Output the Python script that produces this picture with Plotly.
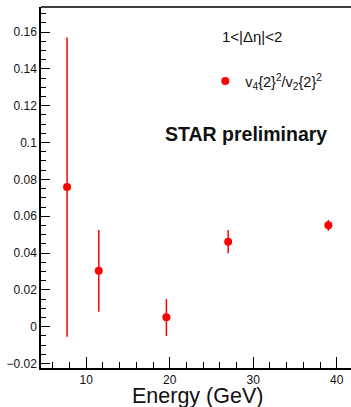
import plotly.graph_objects as go

energy = [7.7, 11.5, 19.6, 27.0, 39.0]
ratio = [0.0759, 0.0304, 0.0051, 0.0462, 0.0551]
err_up = [0.0811, 0.0221, 0.0099, 0.0063, 0.0029]
err_down = [0.0813, 0.0223, 0.0102, 0.0063, 0.0030]

series_name = "v<sub>4</sub>{2}<sup>2</sup>/v<sub>2</sub>{2}<sup>2</sup>"
label_eta = "1<|Δη|<2"
label_star = "<b>STAR preliminary</b>"
x_title = "Energy (GeV)"

W, H = 351, 407
L, R, T, B = 40.7, 0, 7, 39
FONT = "Liberation Sans, Arial, Helvetica, sans-serif"

fig = go.Figure()
fig.add_trace(go.Scatter(
    x=energy, y=ratio, mode="markers", name=series_name,
    marker=dict(color="#ff0000", size=8, symbol="circle"),
    error_y=dict(type="data", array=err_up, arrayminus=err_down,
                 color="#ff0000", thickness=1.5, width=0, symmetric=False),
))

fig.update_layout(
    width=W, height=H,
    margin=dict(l=L, r=R, t=T, b=B, pad=0),
    paper_bgcolor="white", plot_bgcolor="white",
    font=dict(family=FONT, color="#111111", size=12),
    showlegend=True,
    legend=dict(x=0.53, y=0.795, xanchor="left", yanchor="middle",
                bgcolor="rgba(0,0,0,0)", borderwidth=0,
                font=dict(size=14.5, family=FONT, color="#111111"),
                itemwidth=30),
    xaxis=dict(range=[4.58, 41.71], showgrid=False, zeroline=False,
               showline=True, linecolor="black", linewidth=1.5,
               ticks="inside", ticklen=11, tickwidth=1.2, tickcolor="black",
               tick0=0, dtick=10,
               minor=dict(dtick=2, tick0=0, ticks="inside", ticklen=6,
                          tickwidth=1, tickcolor="black", showgrid=False),
               tickfont=dict(size=12, family=FONT, color="#111111")),
    yaxis=dict(range=[-0.0224, 0.1736], showgrid=False, zeroline=False,
               showline=True, linecolor="black", linewidth=1.5,
               ticks="inside", ticklen=9, tickwidth=1.2, tickcolor="black",
               tick0=0, dtick=0.02,
               minor=dict(dtick=0.005, tick0=0, ticks="inside", ticklen=5,
                          tickwidth=1, tickcolor="black", showgrid=False),
               tickfont=dict(size=12, family=FONT, color="#111111")),
)

# top frame line
fig.add_shape(type="line", xref="paper", yref="paper", x0=0, x1=1, y0=1, y1=1,
              line=dict(color="black", width=1.5))

pw = W - L - R
ph = H - T - B

def px(xp):
    return (xp - L) / pw

def py(yp):
    return (H - B - yp) / ph

fig.add_annotation(text=label_eta, xref="paper", yref="paper",
                   x=px(252), y=py(36), showarrow=False,
                   font=dict(size=15, family=FONT, color="#111111"),
                   xanchor="center", yanchor="middle")
fig.add_annotation(text=label_star, xref="paper", yref="paper",
                   x=px(246), y=py(134), showarrow=False,
                   font=dict(size=19.5, family=FONT, color="#111111"),
                   xanchor="center", yanchor="middle")
fig.add_annotation(text=x_title, xref="paper", yref="paper",
                   x=px(197), y=py(396), showarrow=False,
                   font=dict(size=21.5, family=FONT, color="#111111"),
                   xanchor="center", yanchor="middle")

fig.write_html("out.html")
